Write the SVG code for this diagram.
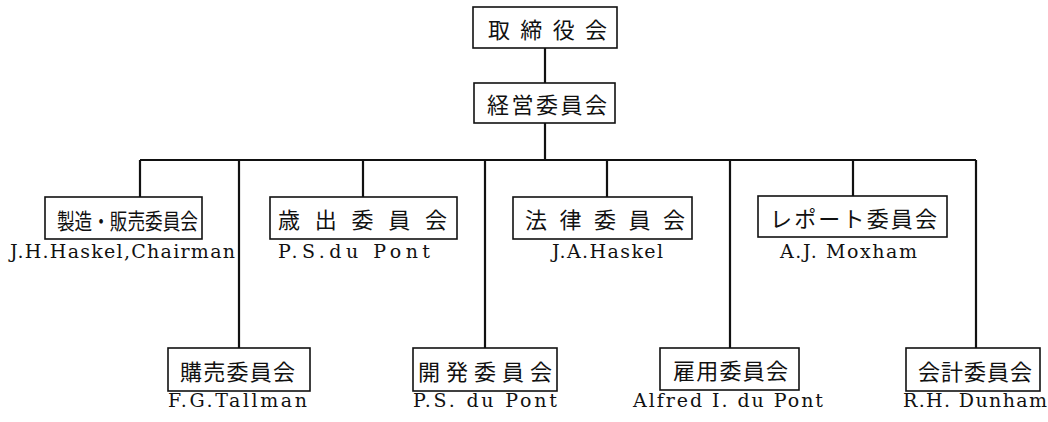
<svg xmlns="http://www.w3.org/2000/svg" width="1048" height="422" viewBox="0 0 1048 422">
<style>
.box{fill:#fff;stroke:#111;stroke-width:1.6}
.jp{font-family:"Noto Sans CJK JP","Noto Sans",sans-serif;font-size:22px;fill:#111;dominant-baseline:central}
.en{font-family:"DejaVu Serif","Liberation Serif",serif;font-size:19px;fill:#111}
.ln{stroke:#111;stroke-width:2.2;fill:none}
</style>
<rect width="1048" height="422" fill="#fff"/>
<g id="connectors">
<path class="ln" d="M545 48V83M545 123V160M140 160H976M140 160V197M239 160V348M363 160V197M485 160V348M607 160V197M730 160V348M853 160V196M976 160V348"/>
</g>
<g id="board"><rect class="box" x="473" y="7" width="144" height="41"/><text class="jp" x="488" y="28" textLength="119" lengthAdjust="spacing">取締役会</text></g>
<g id="exec"><rect class="box" x="474" y="83" width="141" height="40"/><text class="jp" x="487" y="103" textLength="120" lengthAdjust="spacing" font-size="23">経営委員会</text></g>
<g id="mfg"><rect class="box" x="45" y="197" width="157" height="42"/><text class="jp" x="57" y="219" textLength="141" lengthAdjust="spacingAndGlyphs" font-size="21">製造・販売委員会</text><text class="en" x="10" y="258" textLength="225" lengthAdjust="spacing">J.H.Haskel,Chairman</text></g>
<g id="purchase"><rect class="box" x="168" y="348" width="142" height="43"/><text class="jp" x="180" y="370" textLength="115" lengthAdjust="spacing" font-size="23">購売委員会</text><text class="en" x="168" y="407" textLength="139" lengthAdjust="spacing">F.G.Tallman</text></g>
<g id="budget"><rect class="box" x="270" y="197" width="187" height="42"/><text class="jp" x="278" y="218" textLength="169" lengthAdjust="spacing">歳出委員会</text><text class="en" x="278" y="258" textLength="152" lengthAdjust="spacing">P.S.du Pont</text></g>
<g id="dev"><rect class="box" x="413" y="348" width="144" height="43"/><text class="jp" x="418" y="370" textLength="134" lengthAdjust="spacing" font-size="23">開発委員会</text><text class="en" x="413" y="407" textLength="144" lengthAdjust="spacing">P.S. du Pont</text></g>
<g id="legal"><rect class="box" x="513" y="197" width="179" height="42"/><text class="jp" x="525" y="218" textLength="160" lengthAdjust="spacing">法律委員会</text><text class="en" x="552" y="258" textLength="111" lengthAdjust="spacing">J.A.Haskel</text></g>
<g id="employ"><rect class="box" x="660" y="348" width="139" height="42"/><text class="jp" x="673" y="369" textLength="115" lengthAdjust="spacing" font-size="23">雇用委員会</text><text class="en" x="633" y="407" textLength="190" lengthAdjust="spacing">Alfred I. du Pont</text></g>
<g id="report"><rect class="box" x="758" y="196" width="189" height="41"/><text class="jp" x="770" y="217" textLength="167" lengthAdjust="spacing" font-size="23">レポート委員会</text><text class="en" x="780" y="258" textLength="137" lengthAdjust="spacing">A.J. Moxham</text></g>
<g id="account"><rect class="box" x="906" y="348" width="134" height="43"/><text class="jp" x="918" y="370" textLength="114" lengthAdjust="spacing" font-size="23">会計委員会</text><text class="en" x="903" y="407" textLength="144" lengthAdjust="spacing">R.H. Dunham</text></g>
</svg>
